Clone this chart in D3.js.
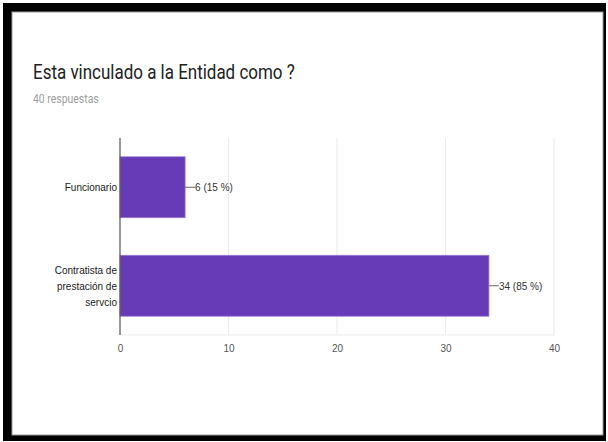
<!DOCTYPE html>
<html>
<head>
<meta charset="utf-8">
<script src="https://cdn.jsdelivr.net/npm/d3@7"></script>
<style>
  body { margin: 0; background: #fff; }
  svg text { font-family: Arial, "Liberation Sans", sans-serif; }
</style>
</head>
<body>
<div class="svg-container"></div>
<script>
// data
const categories = ['Funcionario', 'Contratista de prestación de servcio'];
const categoryLines = [['Funcionario'], ['Contratista de', 'prestación de', 'servcio']];
const counts = [6, 34];
const percents = [15, 85];
const xTicks = [0, 10, 20, 30, 40];
const title = 'Esta vinculado a la Entidad como ?';
const subtitle = '40 respuestas';

const W = 608, H = 442;
const plot = { left: 120, right: 554, top: 138, bottom: 335 };
// the screenshot is a bit squashed sideways, so text is narrowed to match
const squash = 0.87;

const svg = d3.select('.svg-container')
    .append('svg')
    .attr('width', W)
    .attr('height', H);

function narrow(sel) {
    sel.each(function () {
        const w = this.getComputedTextLength();
        d3.select(this)
            .attr('textLength', w * squash)
            .attr('lengthAdjust', 'spacingAndGlyphs');
    });
}

// black frame round the card
svg.append('rect')
    .attr('x', 3).attr('y', 3)
    .attr('width', 603).attr('height', 438)
    .attr('fill', '#000');
svg.append('rect')
    .attr('x', 12).attr('y', 12)
    .attr('width', 591).attr('height', 423)
    .attr('fill', '#fff')
    .attr('stroke', '#9a9a9a')
    .attr('stroke-width', 1);

// title + response count
svg.append('text')
    .attr('class', 'title')
    .attr('x', 33).attr('y', 79)
    .style('font-family', 'Roboto, sans-serif')
    .attr('font-size', 19.5)
    .attr('fill', '#212121')
    .text(title)
    .call(narrow);

svg.append('text')
    .attr('class', 'subtitle')
    .attr('x', 33).attr('y', 103)
    .style('font-family', 'Roboto, sans-serif')
    .attr('font-size', 12)
    .attr('fill', '#9e9e9e')
    .text(subtitle)
    .call(narrow);

// scales
const xScale = d3.scaleLinear()
    .domain([0, 40])
    .range([plot.left, plot.right]);

const yScale = d3.scaleBand()
    .domain(categories)
    .range([plot.top, plot.bottom])
    .paddingInner(0.382)
    .paddingOuter(0.191);

// gridlines
svg.append('g')
    .selectAll('line')
    .data(xTicks.slice(1))
    .join('line')
    .attr('x1', d => xScale(d)).attr('x2', d => xScale(d))
    .attr('y1', plot.top).attr('y2', plot.bottom)
    .attr('stroke', '#ebebeb');

svg.append('line')
    .attr('x1', plot.left).attr('x2', plot.right)
    .attr('y1', plot.bottom).attr('y2', plot.bottom)
    .attr('stroke', '#ebebeb');

// bars
svg.selectAll('.bar')
    .data(counts)
    .join('rect')
    .attr('class', 'bar')
    .attr('x', xScale(0))
    .attr('y', (d, i) => yScale(categories[i]))
    .attr('width', d => xScale(d) - xScale(0))
    .attr('height', yScale.bandwidth())
    .attr('fill', '#673ab7')
    .attr('stroke', '#9575cd')
    .attr('stroke-width', 0.8);

// zero axis line
svg.append('line')
    .attr('x1', plot.left).attr('x2', plot.left)
    .attr('y1', plot.top).attr('y2', plot.bottom)
    .attr('stroke', '#555')
    .attr('stroke-width', 1.2);

// x tick labels
const xAxis = d3.axisBottom(xScale)
    .tickValues(xTicks)
    .tickSize(0)
    .tickPadding(9);

svg.append('g')
    .attr('class', 'x-axis')
    .attr('transform', `translate(0, ${plot.bottom})`)
    .call(xAxis)
    .call(g => g.select('.domain').remove())
    .call(g => g.selectAll('text')
        .attr('font-family', null)
        .attr('font-size', 11.5)
        .attr('fill', '#555')
        .call(narrow));

// category labels, wrapped
const yLabels = svg.selectAll('.cat-label')
    .data(categories)
    .join('text')
    .attr('class', 'cat-label')
    .attr('text-anchor', 'end')
    .attr('font-size', 11.5)
    .attr('fill', '#222');

yLabels.each(function (d, i) {
    const lines = categoryLines[i];
    const cy = yScale(d) + yScale.bandwidth() / 2;
    const lh = 16;
    d3.select(this).selectAll('tspan')
        .data(lines)
        .join('tspan')
        .attr('x', plot.left - 3)
        .attr('y', (l, j) => cy + (j - (lines.length - 1) / 2) * lh)
        .attr('dy', '0.35em')
        .text(l => l)
        .call(narrow);
});

// leader lines + value labels
svg.selectAll('.leader')
    .data(counts)
    .join('line')
    .attr('class', 'leader')
    .attr('x1', d => xScale(d)).attr('x2', d => xScale(d) + 10)
    .attr('y1', (d, i) => yScale(categories[i]) + yScale.bandwidth() / 2)
    .attr('y2', (d, i) => yScale(categories[i]) + yScale.bandwidth() / 2)
    .attr('stroke', '#666');

svg.selectAll('.val-label')
    .data(counts)
    .join('text')
    .attr('class', 'val-label')
    .attr('x', d => xScale(d) + 10)
    .attr('y', (d, i) => yScale(categories[i]) + yScale.bandwidth() / 2)
    .attr('dy', '0.35em')
    .attr('font-size', 11.5)
    .attr('fill', '#333')
    .text((d, i) => `${d} (${percents[i]} %)`)
    .call(narrow);
</script>
</body>
</html>
